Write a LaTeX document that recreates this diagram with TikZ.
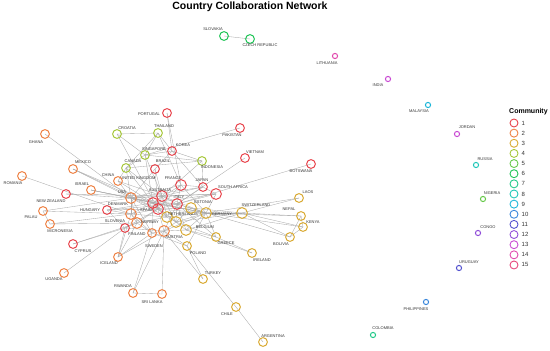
\documentclass[tikz,border=0pt]{standalone}
\usepackage{fontspec}
\setmainfont{Liberation Sans}
\usepackage{xcolor}
\usetikzlibrary{backgrounds}
\definecolor{comm1}{HTML}{E8444C}
\definecolor{comm2}{HTML}{EE8144}
\definecolor{comm3}{HTML}{D9AA33}
\definecolor{comm4}{HTML}{A6C73A}
\definecolor{comm5}{HTML}{67C94B}
\definecolor{comm6}{HTML}{1EC456}
\definecolor{comm7}{HTML}{22C98A}
\definecolor{comm8}{HTML}{22C7B8}
\definecolor{comm9}{HTML}{1CB6D8}
\definecolor{comm10}{HTML}{3A87DB}
\definecolor{comm11}{HTML}{5453CF}
\definecolor{comm12}{HTML}{914FD9}
\definecolor{comm13}{HTML}{C94BD3}
\definecolor{comm14}{HTML}{E14AAE}
\definecolor{comm15}{HTML}{E6457B}
\tikzset{
  cnode/.style={circle, draw=#1, line width=1pt, minimum size=8.8pt, inner sep=0pt},
  hubnode/.style={cnode=#1, minimum size=10.8pt},
  lonenode/.style={circle, draw=#1, line width=1pt, minimum size=5.2pt, inner sep=0pt},
  legnode/.style={circle, draw=#1, line width=0.9pt, minimum size=8pt, inner sep=0pt},
  cname/.style={font=\fontsize{4}{4}\selectfont, text=black!80, inner sep=0pt},
  link/.style={line width=0.35pt, draw=black!33},
  legtext/.style={font=\fontsize{6}{6}\selectfont, text=black!80, inner sep=0pt, anchor=west}
}
\begin{document}
\begin{tikzpicture}[x=1pt, y=-1pt]
  \useasboundingbox (0,0) rectangle (550,351);
  \node[font=\fontsize{10.5}{11}\selectfont\bfseries, anchor=base] (title) at (250,9.5) {Country Collaboration Network};
  % community 1
  \node[cnode=comm1] (portugal) at (167,113) {};
  \node[cname] (portugal-t) at (149,114) {PORTUGAL};
  \node[cnode=comm1] (korea) at (172,151) {};
  \node[cname] (korea-t) at (183,145) {KOREA};
  \node[cnode=comm1] (brazil) at (155,169) {};
  \node[cname] (brazil-t) at (163,161) {BRAZIL};
  \node[cnode=comm1] (pakistan) at (240,128) {};
  \node[cname] (pakistan-t) at (232,135) {PAKISTAN};
  \node[cnode=comm1] (vietnam) at (245,158) {};
  \node[cname] (vietnam-t) at (255,152) {VIETNAM};
  \node[cnode=comm1] (botswana) at (311,164) {};
  \node[cname] (botswana-t) at (301,171) {BOTSWANA};
  \node[hubnode=comm1] (france) at (181,185) {};
  \node[cname] (france-t) at (173,178) {FRANCE};
  \node[cnode=comm1] (japan) at (203,187) {};
  \node[cname] (japan-t) at (202,180) {JAPAN};
  \node[hubnode=comm1] (safrica) at (216,194) {};
  \node[cname] (safrica-t) at (233,187) {SOUTH AFRICA};
  \node[hubnode=comm1] (australia) at (162,196) {};
  \node[cname] (australia-t) at (160,190) {AUSTRALIA};
  \node[hubnode=comm1] (uk) at (153,203) {};
  \node[cname] (uk-t) at (138,178) {UNITED KINGDOM};
  \node[hubnode=comm1] (spain) at (158,209) {};
  \node[cname] (spain-t) at (146,210) {SPAIN};
  \node[hubnode=comm1] (italy) at (177,204) {};
  \node[cname] (italy-t) at (179,197) {ITALY};
  \node[cnode=comm1] (newzealand) at (66,194) {};
  \node[cname] (newzealand-t) at (51,201) {NEW ZEALAND};
  \node[cnode=comm1] (hungary) at (107,210) {};
  \node[cname] (hungary-t) at (90,210) {HUNGARY};
  \node[cnode=comm1] (slovenia) at (125,228) {};
  \node[cname] (slovenia-t) at (115,221) {SLOVENIA};
  \node[cnode=comm1] (cyprus) at (73,244) {};
  \node[cname] (cyprus-t) at (83,251) {CYPRUS};
  % community 2
  \node[cnode=comm2] (ghana) at (45,134) {};
  \node[cname] (ghana-t) at (36,142) {GHANA};
  \node[cnode=comm2] (romania) at (22,176) {};
  \node[cname] (romania-t) at (13,183) {ROMANIA};
  \node[cnode=comm2] (mexico) at (73,169) {};
  \node[cname] (mexico-t) at (83,162) {MEXICO};
  \node[cnode=comm2] (china) at (118,181) {};
  \node[cname] (china-t) at (108,175) {CHINA};
  \node[cnode=comm2] (israel) at (91,190) {};
  \node[cname] (israel-t) at (82,184) {ISRAEL};
  \node[hubnode=comm2] (usa) at (131,198) {};
  \node[cname] (usa-t) at (122,192) {USA};
  \node[hubnode=comm2] (denmark) at (131,214) {};
  \node[cname] (denmark-t) at (118,204) {DENMARK};
  \node[cnode=comm2] (palau) at (43,211) {};
  \node[cname] (palau-t) at (31,217) {PALAU};
  \node[cnode=comm2] (micronesia) at (50,224) {};
  \node[cname] (micronesia-t) at (60,231) {MICRONESIA};
  \node[hubnode=comm2] (finland) at (137,223) {};
  \node[cname] (finland-t) at (137,234) {FINLAND};
  \node[cnode=comm2] (sweden) at (152,233) {};
  \node[cname] (sweden-t) at (154,246) {SWEDEN};
  \node[hubnode=comm2] (austria) at (164,231) {};
  \node[cname] (austria-t) at (174,237) {AUSTRIA};
  \node[cnode=comm2] (iceland) at (118,257) {};
  \node[cname] (iceland-t) at (109,263) {ICELAND};
  \node[cnode=comm2] (uganda) at (64,273) {};
  \node[cname] (uganda-t) at (54,279) {UGANDA};
  \node[cnode=comm2] (rwanda) at (133,293) {};
  \node[cname] (rwanda-t) at (123,286) {RWANDA};
  \node[cnode=comm2] (srilanka) at (162,294) {};
  \node[cname] (srilanka-t) at (152,302) {SRI LANKA};
  % community 3
  \node[hubnode=comm3] (norway) at (167,217) {};
  \node[cname] (norway-t) at (150,222) {NORWAY};
  \node[hubnode=comm3] (netherlands) at (176,222) {};
  \node[cname] (netherlands-t) at (183,214) {NETHERLANDS};
  \node[hubnode=comm3] (estonia) at (191,208) {};
  \node[cname] (estonia-t) at (203,202) {ESTONIA};
  \node[hubnode=comm3] (germany) at (206,213) {};
  \node[cname] (germany-t) at (222,214) {GERMANY};
  \node[hubnode=comm3] (belgium) at (186,230) {};
  \node[cname] (belgium-t) at (205,227) {BELGIUM};
  \node[cnode=comm3] (greece) at (216,237) {};
  \node[cname] (greece-t) at (226,243) {GREECE};
  \node[cnode=comm3] (poland) at (187,246) {};
  \node[cname] (poland-t) at (198,253) {POLAND};
  \node[hubnode=comm3] (switzerland) at (242,213) {};
  \node[cname] (switzerland-t) at (256,205) {SWITZERLAND};
  \node[cnode=comm3] (laos) at (299,198) {};
  \node[cname] (laos-t) at (308,192) {LAOS};
  \node[cnode=comm3] (nepal) at (301,216) {};
  \node[cname] (nepal-t) at (289,209) {NEPAL};
  \node[cnode=comm3] (kenya) at (303,227) {};
  \node[cname] (kenya-t) at (313,222) {KENYA};
  \node[cnode=comm3] (bolivia) at (290,237) {};
  \node[cname] (bolivia-t) at (281,244) {BOLIVIA};
  \node[cnode=comm3] (ireland) at (252,253) {};
  \node[cname] (ireland-t) at (262,260) {IRELAND};
  \node[cnode=comm3] (turkey) at (203,279) {};
  \node[cname] (turkey-t) at (213,273) {TURKEY};
  \node[cnode=comm3] (chile) at (236,307) {};
  \node[cname] (chile-t) at (227,314) {CHILE};
  \node[cnode=comm3] (argentina) at (263,342) {};
  \node[cname] (argentina-t) at (273,336) {ARGENTINA};
  % community 4
  \node[cnode=comm4] (croatia) at (117,134) {};
  \node[cname] (croatia-t) at (127,128) {CROATIA};
  \node[cnode=comm4] (thailand) at (158,133) {};
  \node[cname] (thailand-t) at (164,126) {THAILAND};
  \node[cnode=comm4] (singapore) at (145,155) {};
  \node[cname] (singapore-t) at (154,149) {SINGAPORE};
  \node[cnode=comm4] (canada) at (126,168) {};
  \node[cname] (canada-t) at (133,161) {CANADA};
  \node[cnode=comm4] (indonesia) at (202,161) {};
  \node[cname] (indonesia-t) at (212,167) {INDONESIA};
  % small communities
  \node[cnode=comm6] (slovakia) at (224,36) {};
  \node[cname] (slovakia-t) at (213,29) {SLOVAKIA};
  \node[cnode=comm6] (czech) at (250,39) {};
  \node[cname] (czech-t) at (260,45) {CZECH REPUBLIC};
  \node[lonenode=comm14] (lithuania) at (335,56) {};
  \node[cname] (lithuania-t) at (327,63) {LITHUANIA};
  \node[lonenode=comm13] (india) at (388,79) {};
  \node[cname] (india-t) at (378,85) {INDIA};
  \node[lonenode=comm9] (malaysia) at (428,105) {};
  \node[cname] (malaysia-t) at (419,111) {MALAYSIA};
  \node[lonenode=comm13] (jordan) at (457,134) {};
  \node[cname] (jordan-t) at (467,127) {JORDAN};
  \node[lonenode=comm8] (russia) at (476,165) {};
  \node[cname] (russia-t) at (485,159) {RUSSIA};
  \node[lonenode=comm5] (nigeria) at (483,199) {};
  \node[cname] (nigeria-t) at (492,193) {NIGERIA};
  \node[lonenode=comm12] (congo) at (478,233) {};
  \node[cname] (congo-t) at (488,227) {CONGO};
  \node[lonenode=comm11] (uruguay) at (459,268) {};
  \node[cname] (uruguay-t) at (469,262) {URUGUAY};
  \node[lonenode=comm10] (philippines) at (426,302) {};
  \node[cname] (philippines-t) at (416,309) {PHILIPPINES};
  \node[lonenode=comm7] (colombia) at (373,335) {};
  \node[cname] (colombia-t) at (383,328) {COLOMBIA};
  % links
  \begin{scope}[on background layer]
    \draw[link] (slovakia.center) -- (czech.center);
    \foreach \b in {uk,australia,spain,italy,germany,denmark,finland,netherlands,sweden,china,mexico,ghana,israel,newzealand,palau,canada,brazil,safrica,france,japan}
      \draw[link] (usa.center) -- (\b.center);
    \foreach \b in {australia,spain,italy,germany,netherlands,denmark,sweden,norway,france,mexico,china,israel,hungary,canada,singapore,safrica}
      \draw[link] (uk.center) -- (\b.center);
    \foreach \b in {spain,italy,germany,netherlands,norway,china,newzealand,singapore,canada,brazil,japan,safrica,indonesia}
      \draw[link] (australia.center) -- (\b.center);
    \foreach \b in {italy,germany,netherlands,finland,denmark,austria,estonia,norway,slovenia,france,mexico,hungary,brazil,croatia}
      \draw[link] (spain.center) -- (\b.center);
    \foreach \b in {germany,estonia,netherlands,belgium,austria,france,japan,safrica,hungary,greece,vietnam,botswana}
      \draw[link] (italy.center) -- (\b.center);
    \foreach \b in {netherlands,estonia,belgium,austria,norway,france,safrica,greece,poland,switzerland,laos,nepal,kenya,bolivia,israel}
      \draw[link] (germany.center) -- (\b.center);
    \foreach \b in {finland,sweden,norway,hungary,romania,palau,micronesia,iceland}
      \draw[link] (denmark.center) -- (\b.center);
    \foreach \b in {sweden,norway,slovenia,micronesia,cyprus,iceland}
      \draw[link] (finland.center) -- (\b.center);
    \foreach \b in {laos,nepal,kenya,bolivia,estonia,belgium,netherlands}
      \draw[link] (switzerland.center) -- (\b.center);
    \foreach \b in {netherlands,belgium,sweden,slovenia,poland,turkey,srilanka,rwanda,iceland}
      \draw[link] (austria.center) -- (\b.center);
    \draw[link] (nepal.center) -- (kenya.center);
    \draw[link] (kenya.center) -- (bolivia.center);
    \draw[link] (nepal.center) -- (bolivia.center);
    \draw[link] (greece.center) -- (ireland.center);
    \draw[link] (belgium.center) -- (ireland.center);
    \draw[link] (greece.center) -- (belgium.center);
    \draw[link] (greece.center) -- (netherlands.center);
    \draw[link] (estonia.center) -- (netherlands.center);
    \draw[link] (belgium.center) -- (netherlands.center);
    \draw[link] (poland.center) -- (turkey.center);
    \draw[link] (poland.center) -- (chile.center);
    \draw[link] (chile.center) -- (argentina.center);
    \draw[link] (poland.center) -- (sweden.center);
    \draw[link] (rwanda.center) -- (srilanka.center);
    \draw[link] (rwanda.center) -- (sweden.center);
    \draw[link] (iceland.center) -- (slovenia.center);
    \draw[link] (iceland.center) -- (sweden.center);
    \draw[link] (uganda.center) -- (slovenia.center);
    \draw[link] (cyprus.center) -- (slovenia.center);
    \draw[link] (palau.center) -- (micronesia.center);
    \draw[link] (hungary.center) -- (slovenia.center);
    \draw[link] (croatia.center) -- (thailand.center);
    \draw[link] (croatia.center) -- (singapore.center);
    \foreach \b in {singapore,canada,korea,france}
      \draw[link] (thailand.center) -- (\b.center);
    \draw[link] (portugal.center) -- (korea.center);
    \draw[link] (portugal.center) -- (france.center);
    \foreach \b in {canada,indonesia,korea,pakistan}
      \draw[link] (singapore.center) -- (\b.center);
    \draw[link] (canada.center) -- (china.center);
    \draw[link] (canada.center) -- (indonesia.center);
    \draw[link] (korea.center) -- (indonesia.center);
    \draw[link] (korea.center) -- (japan.center);
    \draw[link] (korea.center) -- (brazil.center);
    \draw[link] (indonesia.center) -- (japan.center);
    \draw[link] (france.center) -- (japan.center);
    \draw[link] (safrica.center) -- (japan.center);
  \end{scope}
  % legend
  \node[font=\fontsize{7}{7}\selectfont\bfseries, anchor=west, inner sep=0pt] (legtitle) at (509,112) {Community};
  \foreach \i in {1,...,15} {
    \node[legnode=comm\i] (leg\i) at (514,{123+(\i-1)*10.14}) {};
    \node[legtext] (legnum\i) at (521.5,{123+(\i-1)*10.14}) {\i};
  }
\end{tikzpicture}
\end{document}
